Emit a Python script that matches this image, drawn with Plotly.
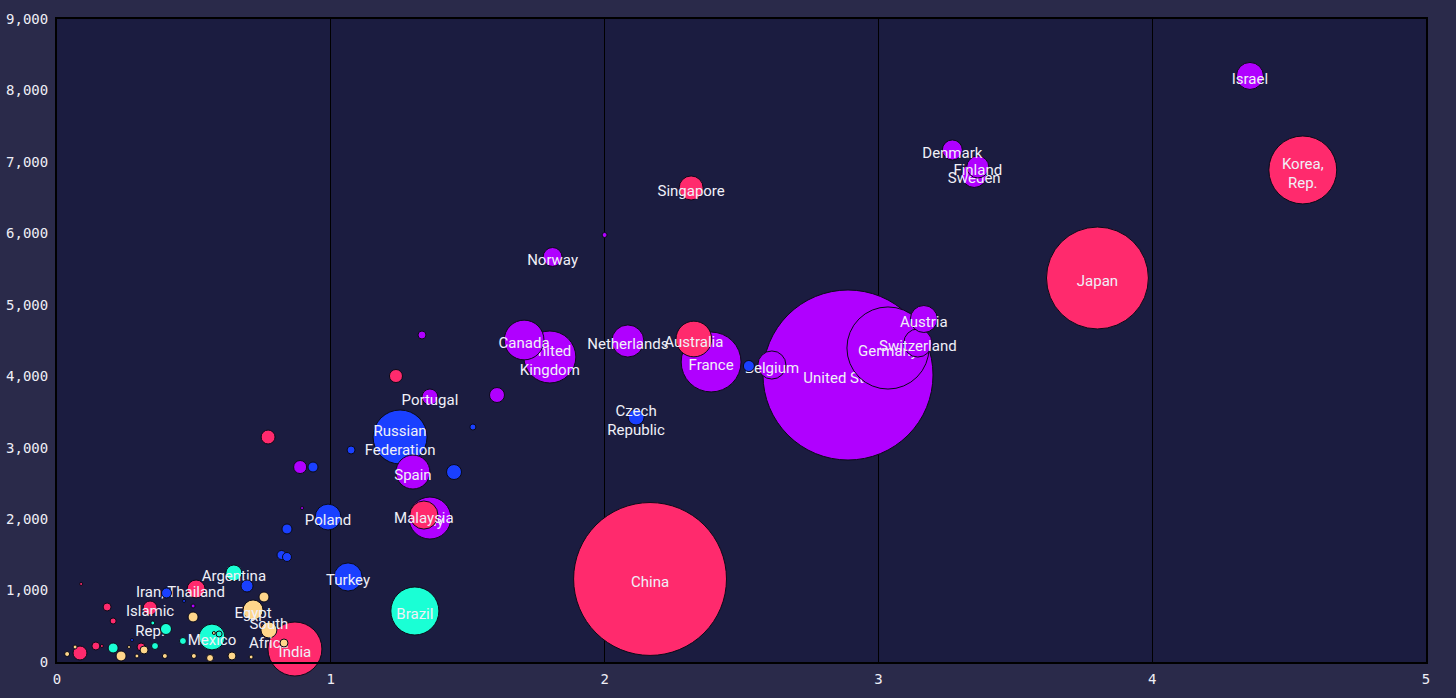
import plotly.graph_objects as go

# ---- data ----
countries = [
    "United States", "China", "Japan", "Germany", "Korea, Rep.", "France", "Russian Federation", "India",
    "United Kingdom", "Brazil", "Italy", "Canada", "Australia", "Spain", "Netherlands", "Turkey",
    "Switzerland", "Malaysia", "Belgium", "Israel", "Austria", "Poland", "Mexico", "Sweden",
    "Singapore", "Finland", "Denmark", "Egypt", "Norway", "Thailand", "Argentina", "Czech Republic",
    "Portugal", "South Africa", "Ireland", "Hungary", "Hong Kong", "Iran, Islamic Rep.", "New Zealand", "Greece",
    "Romania", "Slovenia", "Slovakia", "Tunisia", "Colombia", "Croatia", "Serbia", "Ukraine",
    "Bulgaria", "Morocco", "Peru", "Pakistan", "Iceland", "Lithuania", "Mongolia", "Indonesia",
    "Kenya", "Nigeria", "Chile", "Ecuador", "Ethiopia", "Estonia", "Sri Lanka", "Ghana",
    "Senegal", "Uganda", "Tanzania", "Zambia", "Luxembourg", "Malta", "Cyprus", "Kazakhstan",
    "Uruguay", "Philippines", "Costa Rica", "Cuba", "Mali", "Burkina Faso", "Kyrgyz Republic", "Brunei",
    "Madagascar", "Vietnam", "Botswana",
]
rd_pct_gdp = [
    2.889, 2.166, 3.80, 3.035, 4.55, 2.389, 1.253, 0.869,
    1.80, 1.307, 1.362, 1.706, 2.326, 1.30, 2.085, 1.063,
    3.144, 1.34, 2.611, 4.357, 3.166, 0.99, 0.566, 3.35,
    2.316, 3.363, 3.27, 0.716, 1.81, 0.508, 0.646, 2.115,
    1.362, 0.774, 1.607, 1.45, 0.771, 0.34, 1.238, 0.888,
    0.694, 2.527, 0.935, 0.756, 0.398, 0.84, 0.82, 0.84,
    0.40, 0.497, 0.205, 0.307, 1.333, 1.074, 0.183, 0.142,
    0.829, 0.318, 0.358, 0.46, 0.709, 1.519, 0.205, 0.234,
    0.559, 0.639, 0.50, 0.394, 2.0, 0.895, 0.497, 0.464,
    0.35, 0.084, 0.592, 0.573, 0.037, 0.066, 0.274, 0.088,
    0.292, 0.164, 0.263,
]
researchers_per_million = [
    4017, 1162, 5375, 4395, 6887, 4199, 3149, 182,
    4269, 714, 2015, 4507, 4521, 2659, 4493, 1190,
    4465, 2057, 4157, 8203, 4801, 2029, 350, 6817,
    6635, 6929, 7167, 728, 5669, 1022, 1246, 3429,
    3709, 448, 3737, 2659, 3149, 756, 4003, 2729,
    1064, 4143, 2729, 910, 462, 1862, 1498, 1470,
    966, 630, 196, 210, 4577, 2967, 770, 224,
    266, 168, 224, 294, 70, 3289, 574, 84,
    56, 84, 84, 84, 5977, 2155, 784, 854,
    546, 126, 392, 406, 112, 210, 308, 1092,
    84, 224, 210,
]
rd_spend_bn = [
    476, 385, 171, 111, 76, 59, 48, 48,
    44.5, 38, 29, 26, 21, 19, 17, 13,
    13, 13, 13, 12, 12, 11, 11, 10.3,
    9.5, 8, 6.6, 6.6, 5.9, 5.3, 4.2, 4.2,
    4.2, 4.2, 3.7, 3.7, 3.2, 3.2, 2.8, 2.8,
    2.4, 2.0, 1.65, 1.65, 2.0, 1.65, 1.33, 1.33,
    1.65, 1.65, 1.65, 1.05, 1.05, 1.05, 1.05, 1.05,
    1.05, 1.05, 0.8, 0.8, 0.26, 0.6, 0.6, 1.65,
    0.8, 1.05, 0.41, 0.41, 0.41, 0.15, 0.26, 0.15,
    0.26, 3.2, 0.6, 0.15, 0.41, 0.26, 0.15, 0.15,
    0.26, 0.15, 0.15,
]
regions = [
    "Europe & N. America", "Asia", "Asia", "Europe & N. America", "Asia", "Europe & N. America", "Eastern Europe", "Asia",
    "Europe & N. America", "Latin America", "Europe & N. America", "Europe & N. America", "Asia", "Europe & N. America", "Europe & N. America", "Eastern Europe",
    "Europe & N. America", "Asia", "Europe & N. America", "Europe & N. America", "Europe & N. America", "Eastern Europe", "Latin America", "Europe & N. America",
    "Asia", "Europe & N. America", "Europe & N. America", "Africa", "Europe & N. America", "Asia", "Latin America", "Eastern Europe",
    "Europe & N. America", "Africa", "Europe & N. America", "Eastern Europe", "Asia", "Asia", "Asia", "Europe & N. America",
    "Eastern Europe", "Eastern Europe", "Eastern Europe", "Africa", "Latin America", "Eastern Europe", "Eastern Europe", "Eastern Europe",
    "Eastern Europe", "Africa", "Latin America", "Asia", "Europe & N. America", "Eastern Europe", "Asia", "Asia",
    "Africa", "Africa", "Latin America", "Latin America", "Africa", "Eastern Europe", "Asia", "Africa",
    "Africa", "Africa", "Africa", "Africa", "Europe & N. America", "Europe & N. America", "Europe & N. America", "Eastern Europe",
    "Latin America", "Asia", "Latin America", "Africa", "Africa", "Africa", "Eastern Europe", "Asia",
    "Africa", "Asia", "Africa",
]
labeled = {
    "United States": "United States", "China": "China", "Japan": "Japan", "Germany": "Germany",
    "Korea, Rep.": "Korea,<br>Rep.", "France": "France", "Russian Federation": "Russian<br>Federation",
    "India": "India", "United Kingdom": "United<br>Kingdom", "Brazil": "Brazil", "Italy": "Italy",
    "Canada": "Canada", "Australia": "Australia", "Spain": "Spain", "Netherlands": "Netherlands",
    "Turkey": "Turkey", "Switzerland": "Switzerland", "Malaysia": "Malaysia", "Belgium": "Belgium",
    "Israel": "Israel", "Austria": "Austria", "Poland": "Poland", "Mexico": "Mexico", "Sweden": "Sweden",
    "Singapore": "Singapore", "Finland": "Finland", "Denmark": "Denmark", "Egypt": "Egypt",
    "Norway": "Norway", "Thailand": "Thailand", "Argentina": "Argentina", "Czech Republic": "Czech<br>Republic",
    "Portugal": "Portugal", "South Africa": "South<br>Africa", "Iran, Islamic Rep.": "Iran,<br>Islamic<br>Rep.",
}
x_ticks = [0, 1, 2, 3, 4, 5]
y_ticks = [0, 1000, 2000, 3000, 4000, 5000, 6000, 7000, 8000, 9000]

region_colors = {
    "Asia": "#ff2a6d",
    "Europe & N. America": "#b000ff",
    "Eastern Europe": "#1a40ff",
    "Latin America": "#1affd5",
    "Africa": "#ffd68a",
}

MAX_D = 170.0
LABEL_DROP = 65  # small downward nudge of labels (in y units, about 5 px)
max_spend = max(rd_spend_bn)
label_font = dict(family="Roboto, 'Liberation Sans Narrow', sans-serif", size=15, color="#f0f0f8")

fig = go.Figure()
order = sorted(range(len(countries)), key=lambda i: -rd_spend_bn[i])
for i in order:
    d = MAX_D * (rd_spend_bn[i] / max_spend) ** 0.5
    fig.add_trace(go.Scatter(
        x=[rd_pct_gdp[i]], y=[researchers_per_million[i]],
        mode="markers",
        marker=dict(size=max(d, 3), color=region_colors[regions[i]],
                    line=dict(color="#0a0a18", width=1), opacity=1),
        name=countries[i],
        showlegend=False,
        cliponaxis=False,
    ))
    lab = labeled.get(countries[i])
    if lab:
        fig.add_trace(go.Scatter(
            x=[rd_pct_gdp[i]], y=[researchers_per_million[i] - LABEL_DROP],
            mode="text", text=[lab], textposition="middle center",
            textfont=label_font, hoverinfo="skip",
            showlegend=False, cliponaxis=False,
        ))

fig.update_layout(
    width=1456, height=698,
    margin=dict(l=57, r=30, t=19, b=36),
    paper_bgcolor="#2a2a4a",
    plot_bgcolor="#1b1c40",
    font=dict(family="'DejaVu Sans Mono', monospace", size=14, color="#eeeef6"),
    showlegend=False,
)
fig.update_xaxes(
    range=[0, 5], tickvals=x_ticks, showgrid=True, gridcolor="#000000", gridwidth=1,
    showline=True, linecolor="#000000", linewidth=2, mirror=True, zeroline=False,
    ticks="", tickfont=dict(size=14), ticklabelstandoff=3, automargin=False,
)
fig.update_yaxes(
    range=[0, 9000], tickvals=y_ticks, tickformat=",", showgrid=False,
    showline=True, linecolor="#000000", linewidth=2, mirror=True, zeroline=False,
    ticks="", tickfont=dict(size=14), ticklabelstandoff=4, automargin=False,
)

fig.write_html("out.html")
